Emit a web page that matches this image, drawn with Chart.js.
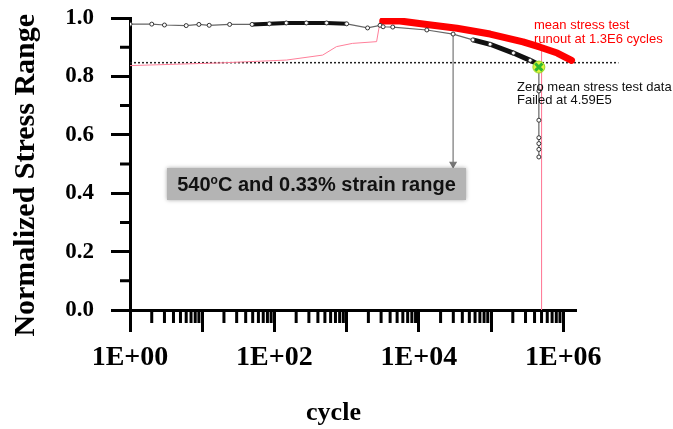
<!DOCTYPE html>
<html>
<head>
<meta charset="utf-8">
<title>Normalized stress range vs cycle</title>
<script src="https://cdn.jsdelivr.net/npm/chart.js@4"></script>
<style>
  html, body { margin: 0; padding: 0; background: #fff; }
</style>
</head>
<body>
<canvas id="myChart" width="673" height="429"></canvas>
<script>
// zero mean stress test (black curve)
const zeroCycles = [1, 2, 3, 6, 9, 12.5, 24, 49, 85, 146, 277, 527, 1000, 1950, 2900, 3200, 4350, 12900, 29800, 56000, 97000, 204000, 348000, 436000, 459000, 459000, 459000, 459000, 459000, 459000, 459000];
const zeroValues = [0.979, 0.979, 0.976, 0.974, 0.978, 0.975, 0.978, 0.978, 0.980, 0.983, 0.983, 0.983, 0.980, 0.966, 0.975, 0.970, 0.969, 0.959, 0.945, 0.925, 0.910, 0.880, 0.855, 0.843, 0.832, 0.75, 0.65, 0.59, 0.57, 0.55, 0.524];

// mean stress test (red band), runout at 1.3E6
const meanCycles = [3160, 5450, 12900, 33700, 97000, 277000, 480000, 826000, 1300000];
const meanValues = [0.990, 0.990, 0.978, 0.965, 0.945, 0.918, 0.900, 0.880, 0.855];

// thin pink trace
const pinkCycles = [1, 17, 147, 466, 724, 1200, 2600, 2900, 3160, 12900, 97000, 480000, 500000, 500000];
const pinkValues = [0.837, 0.846, 0.856, 0.873, 0.902, 0.913, 0.919, 0.987, 0.990, 0.978, 0.945, 0.900, 0.898, 0.0];

// dotted reference level
const refCycles = [1, 5800000];
const refValues = [0.847, 0.847];

// failure point of the zero mean test
const failCycles = [459000];
const failValues = [0.832];

// arrow from the curve to the label box
const arrowCycles = [29800, 29800];
const arrowValues = [0.945, 0.50];

const xTickValues = [1, 10, 100, 1000, 10000, 100000, 1000000];
const xTickLabels = ['1E+00', '', '1E+02', '', '1E+04', '', '1E+06'];
const yTickValues = [0, 0.2, 0.4, 0.6, 0.8, 1.0];
const yTickLabels = ['0.0', '0.2', '0.4', '0.6', '0.8', '1.0'];

const toPts = (xs, ys) => xs.map((x, i) => ({ x: x, y: ys[i] }));

// short ticks between the labelled ones
const minorTicks = {
  id: 'minorTicks',
  afterDraw(chart) {
    const { ctx, scales: { x, y } } = chart;
    ctx.save();
    ctx.strokeStyle = '#000';
    ctx.lineWidth = 3;
    ctx.beginPath();
    for (let d = 0; d <= 6; d++) {
      for (let k = 2; k <= 9; k++) {
        const v = k * Math.pow(10, d);
        if (v > x.max) break;
        const px = x.getPixelForValue(v);
        ctx.moveTo(px, x.top);
        ctx.lineTo(px, x.top + 13);
      }
    }
    [0.1, 0.3, 0.5, 0.7, 0.9].forEach(v => {
      const py = y.getPixelForValue(v);
      ctx.moveTo(y.right, py);
      ctx.lineTo(y.right - 10, py);
    });
    ctx.stroke();
    ctx.restore();
  }
};

// text notes and the grey label box
const notes = {
  id: 'notes',
  afterDraw(chart) {
    const { ctx, chartArea: a } = chart;
    ctx.save();
    // box
    const bx = a.left + 37, by = a.top + 150, bw = 299, bh = 32;
    ctx.shadowColor = 'rgba(0,0,0,0.35)';
    ctx.shadowBlur = 4;
    ctx.fillStyle = '#b4b4b4';
    ctx.fillRect(bx, by, bw, bh);
    ctx.shadowColor = 'transparent';
    ctx.fillStyle = '#111';
    ctx.textBaseline = 'alphabetic';
    const big = 'bold 20px "Liberation Sans", Arial, sans-serif';
    const small = 'bold 12px "Liberation Sans", Arial, sans-serif';
    ctx.font = big;
    const w1 = ctx.measureText('540').width;
    const w3 = ctx.measureText('C and 0.33% strain range').width;
    ctx.font = small;
    const w2 = ctx.measureText('o').width;
    const tx = bx + (bw - (w1 + w2 + w3)) / 2;
    const ty = by + 23;
    ctx.font = big;
    ctx.fillText('540', tx, ty);
    ctx.font = small;
    ctx.fillText('o', tx + w1, ty - 7);
    ctx.font = big;
    ctx.fillText('C and 0.33% strain range', tx + w1 + w2, ty);

    ctx.textBaseline = 'middle';
    ctx.font = '13px "Liberation Sans", Arial, sans-serif';
    ctx.fillStyle = '#ff0000';
    ctx.fillText('mean stress test', a.left + 404, a.top + 7);
    ctx.fillText('runout at 1.3E6 cycles', a.left + 404, a.top + 21);
    ctx.fillStyle = '#111';
    ctx.fillText('Zero mean stress test data', a.left + 387, a.top + 69);
    ctx.fillText('Failed at 4.59E5', a.left + 387, a.top + 82);
    ctx.restore();
  }
};

const tickFont = { family: 'Liberation Serif', weight: 'bold', size: 23 };

new Chart(document.getElementById('myChart'), {
  type: 'line',
  data: {
    datasets: [
      {
        data: toPts(failCycles, failValues),
        showLine: false,
        pointStyle: 'crossRot',
        pointRadius: 5,
        pointBorderWidth: 3,
        pointBorderColor: '#2fb82f'
      },
      {
        data: toPts(failCycles, failValues),
        showLine: false,
        pointStyle: 'circle',
        pointRadius: 6,
        pointBorderWidth: 1,
        pointBackgroundColor: '#e3f23c',
        pointBorderColor: '#9ad82a'
      },
      {
        label: 'Zero mean stress test',
        data: toPts(zeroCycles, zeroValues),
        borderColor: '#555',
        borderWidth: 1.2,
        pointRadius: 2,
        pointBorderWidth: 1,
        pointBorderColor: '#333',
        pointBackgroundColor: '#fff',
        segment: {
          borderWidth: c => {
            const x0 = c.p0.parsed.x;
            if (x0 >= 30 && x0 < 1000) return 4;
            if (x0 >= 50000 && x0 < 459000) return 5;
            return 1.2;
          },
          borderColor: c => {
            const x0 = c.p0.parsed.x;
            if ((x0 >= 30 && x0 < 1000) || (x0 >= 50000 && x0 < 459000)) return '#111';
            return '#666';
          }
        }
      },
      {
        label: 'Mean stress test',
        data: toPts(meanCycles, meanValues),
        borderColor: '#ff0000',
        borderWidth: 7,
        borderCapStyle: 'round',
        borderJoinStyle: 'round',
        pointRadius: 0
      },
      {
        data: toPts(arrowCycles, arrowValues),
        borderColor: '#777',
        borderWidth: 1.2,
        pointStyle: 'triangle',
        rotation: 180,
        pointRadius: [0, 3.5],
        pointBackgroundColor: '#777',
        pointBorderColor: '#777'
      },
      {
        data: toPts(pinkCycles, pinkValues),
        borderColor: '#ff7f9a',
        borderWidth: 1,
        pointRadius: 0
      },
      {
        data: toPts(refCycles, refValues),
        borderColor: '#222',
        borderWidth: 1.5,
        borderDash: [2, 2],
        pointRadius: 0,
        clip: false
      }
    ]
  },
  options: {
    responsive: false,
    animation: false,
    layout: { padding: { top: 18, right: 97, left: 0, bottom: 0 } },
    plugins: {
      legend: { display: false },
      tooltip: { enabled: false }
    },
    scales: {
      x: {
        type: 'logarithmic',
        min: 1,
        max: 1500000,
        afterBuildTicks: s => { s.ticks = xTickValues.map(v => ({ value: v })); },
        afterFit: s => { s.height = 119; },
        ticks: {
          callback: (v, i) => xTickLabels[i],
          autoSkip: false,
          maxRotation: 0,
          color: '#000',
          font: { family: 'Liberation Serif', weight: 'bold', size: 28 },
          padding: 9
        },
        grid: { drawOnChartArea: false, tickLength: 22, tickWidth: 3, tickColor: '#000' },
        border: { color: '#000', width: 3 },
        title: {
          display: true,
          text: 'cycle      ',
          color: '#000',
          font: { family: 'Liberation Serif', weight: 'bold', size: 26 },
          padding: { top: 0, bottom: 0 }
        }
      },
      y: {
        min: 0,
        max: 1,
        afterBuildTicks: s => { s.ticks = yTickValues.map(v => ({ value: v })); },
        afterFit: s => { s.width = 130; s.paddingTop = 0; s.paddingBottom = 0; },
        ticks: {
          callback: (v, i) => yTickLabels[i],
          color: '#000',
          font: tickFont,
          padding: 17
        },
        grid: { drawOnChartArea: false, tickLength: 19, tickWidth: 3, tickColor: '#000' },
        border: { color: '#000', width: 3 },
        title: {
          display: true,
          text: 'Normalized Stress Range   ',
          color: '#000',
          font: { family: 'Liberation Serif', weight: 'bold', size: 30 },
          padding: { top: 8, bottom: 0 }
        }
      }
    }
  },
  plugins: [minorTicks, notes]
});
</script>
</body>
</html>
